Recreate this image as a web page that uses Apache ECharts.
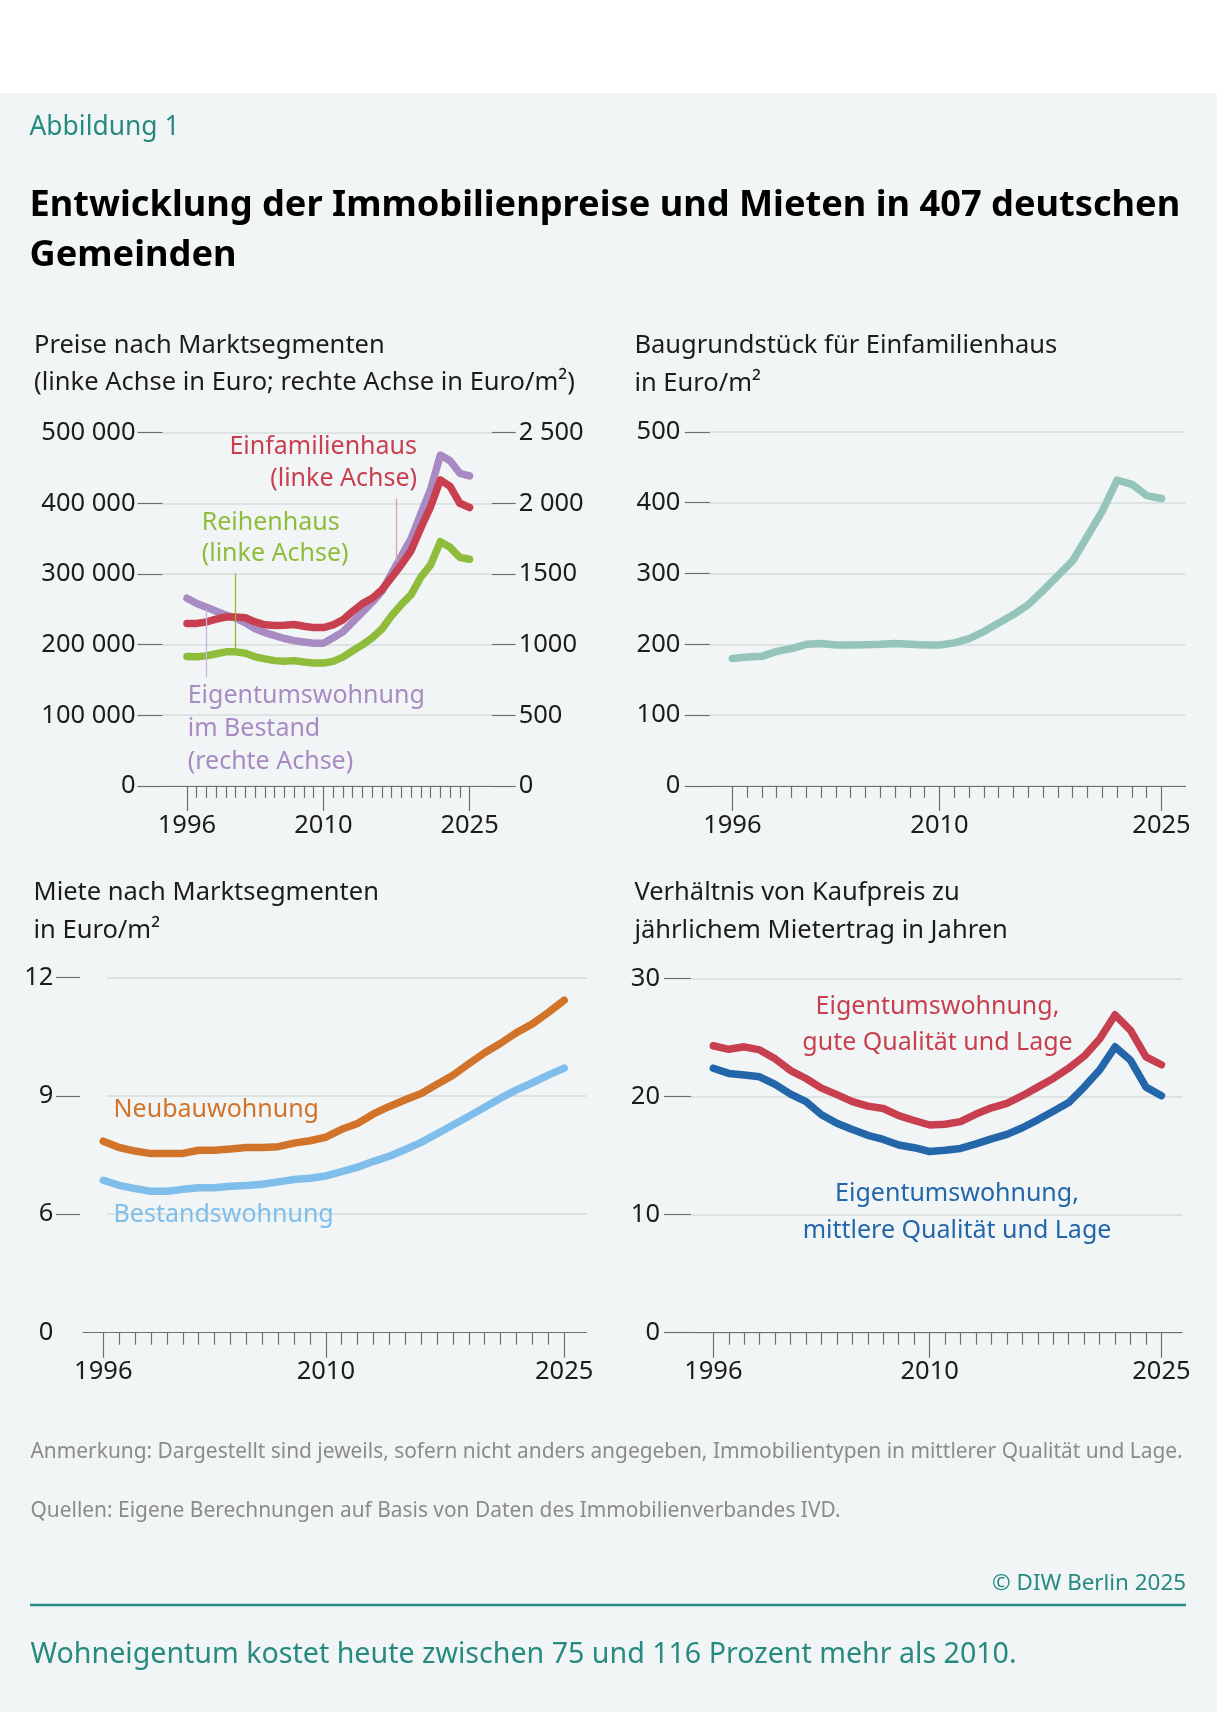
<!DOCTYPE html>
<html><head><meta charset="utf-8">
<script src="https://cdn.jsdelivr.net/npm/echarts@6/dist/echarts.min.js"></script>
<style>html,body{margin:0;padding:0;background:#f2f5f5}#c{width:1217px;height:1712px}</style>
</head><body><div id="c"></div>
<script>
// ---------- data ----------
const years = [1996,1997,1998,1999,2000,2001,2002,2003,2004,2005,2006,2007,2008,2009,2010,2011,2012,2013,2014,2015,2016,2017,2018,2019,2020,2021,2022,2023,2024,2025];
const majorYears = [1996, 2010, 2025];
const minorYears = [1997,1998,1999,2000,2001,2002,2003,2004,2005,2006,2007,2008,2009,2011,2012,2013,2014,2015,2016,2017,2018,2019,2020,2021,2022,2023,2024];

// Chart 1: Preise nach Marktsegmenten
const einfamilienhaus = [229900,230000,232000,236000,239000,239000,238000,232000,228000,227000,227500,228500,226000,224000,224000,228000,235000,247000,258000,265600,277500,295000,313000,333000,365000,395000,433000,424000,400000,394000];
const reihenhaus = [183000,182700,184000,187000,189700,189700,187700,182700,179700,177300,176300,177300,175300,173800,173800,176300,182200,191200,199600,209500,222000,240800,256700,270600,295400,312800,345600,337600,323500,320700];
const eigentumswohnungBestand = [1328,1291,1264,1236,1209,1187,1154,1112,1085,1063,1043,1028,1018,1010,1010,1048,1090,1159,1229,1298,1378,1502,1626,1750,1924,2098,2341,2301,2212,2193];
const leftTicks1 = ['0','100 000','200 000','300 000','400 000','500 000'];
const rightTicks1 = ['0','500','1000','1500','2 000','2 500'];

// Chart 2: Baugrundstück
const baugrundstueck = [180,182,183,190,194,200,201,199,199,199.5,200,201,200,199,199,202,208,218,230,242,256,276,297,318,353,388,432,426,410,406];

// Chart 3: Miete
const neubauwohnung = [7.85,7.69,7.60,7.535,7.535,7.54,7.62,7.62,7.65,7.69,7.69,7.71,7.80,7.86,7.95,8.15,8.30,8.54,8.73,8.90,9.06,9.29,9.52,9.81,10.09,10.33,10.60,10.82,11.11,11.42];
const bestandswohnung = [6.86,6.73,6.65,6.58,6.58,6.63,6.67,6.67,6.71,6.73,6.76,6.82,6.88,6.91,6.97,7.08,7.19,7.34,7.47,7.64,7.82,8.04,8.26,8.48,8.71,8.94,9.15,9.33,9.52,9.70];
const mieteTicks = [6, 9, 12];

// Chart 4: Verhältnis Kaufpreis / Mietertrag
const etwGut = [24.29,23.99,24.20,23.94,23.18,22.19,21.52,20.70,20.15,19.56,19.18,18.98,18.37,17.96,17.58,17.64,17.87,18.51,19.04,19.42,20.06,20.79,21.52,22.39,23.41,24.87,26.91,25.60,23.35,22.68];
const etwMittel = [22.39,21.95,21.81,21.66,21.02,20.20,19.56,18.45,17.73,17.20,16.71,16.36,15.89,15.66,15.34,15.45,15.60,15.98,16.41,16.79,17.35,18.02,18.75,19.48,20.79,22.24,24.20,23.06,20.79,20.06];

// ---------- styles ----------
const FONT = "'Noto Sans', 'Open Sans', sans-serif";
const TEAL = '#278a80';
const GRID = '#d6dbdc';
const TICK = '#6e6e6e';
const TXT = '#1c1c1c';
const NUM = 25.5;
const SUB = 25.5;
const C = {red:'#c83f50', green:'#8fbc3b', purple:'#a78bc2', mint:'#94c5b8', orange:'#d17429', lblue:'#7fbdeb', dblue:'#2366aa'};

const pts = arr => years.map((y, i) => [y, arr[i]]);

function xPair(gi, min, max, labelMargin) {
  return [
    {gridIndex: gi, type: 'value', min: min, max: max, position: 'bottom',
     axisLine: {show: true, onZero: false, lineStyle: {color: TICK, width: 1.2}},
     axisTick: {show: true, customValues: minorYears, length: 12, lineStyle: {color: TICK, width: 1.2}},
     axisLabel: {show: false}, splitLine: {show: false}},
    {gridIndex: gi, type: 'value', min: min, max: max, position: 'bottom',
     axisLine: {show: false},
     axisTick: {show: true, customValues: majorYears, length: 25, lineStyle: {color: TICK, width: 1.2}},
     axisLabel: {show: true, customValues: majorYears, margin: labelMargin, fontFamily: FONT, fontSize: NUM, color: TXT, formatter: v => String(v)},
     splitLine: {show: false}}
  ];
}

function lineSeries(name, data, xi, yi, color, extra) {
  return Object.assign({
    name: name, type: 'line', xAxisIndex: xi, yAxisIndex: yi, data: pts(data),
    symbol: 'none', smooth: false, z: 3,
    lineStyle: {color: color, width: 7.5, cap: 'round', join: 'round'}
  }, extra || {});
}

function callout(color, x, y1, y2) {
  return {silent: true, symbol: ['none', 'none'], label: {show: false}, animation: false,
    lineStyle: {color: color, width: 1.3, type: 'solid', opacity: 1},
    emphasis: {disabled: true},
    data: [[{coord: [x, y1]}, {coord: [x, y2]}]]};
}

const yLabel = {fontFamily: FONT, fontSize: NUM, color: TXT};

function txt(x, y, text, opts) {
  opts = opts || {};
  return {type: 'text', x: x, y: y, z: 100, scaleX: opts.scaleX || 1, silent: true,
    style: {text: text, fill: opts.color || TXT, font: (opts.weight || 'normal') + ' ' + (opts.size || SUB) + 'px ' + (opts.family || FONT),
      textAlign: opts.align || 'left', textVerticalAlign: 'middle'}};
}

const option = {
  backgroundColor: '#f2f5f5',
  animation: false,
  grid: [
    {left: 162.5, top: 432.6, width: 329.2, height: 353.3},
    {left: 709.8, top: 431.9, width: 475.7, height: 354},
    {left: 83.3, top: 977.3, width: 503.1, height: 355.4},
    {left: 691, top: 978.3, width: 491, height: 354.4}
  ],
  xAxis: [].concat(
    xPair(0, 1993.49, 2027.27, 26.5),
    xPair(1, 1994.48, 2026.62, 26.5),
    xPair(2, 1994.742, 2026.397, 26.5),
    xPair(3, 1994.557, 2026.33, 26.5)
  ),
  yAxis: [
    {gridIndex: 0, type: 'value', min: 0, max: 500000, interval: 100000, position: 'left',
     axisLine: {show: false}, axisTick: {show: true, length: 25, lineStyle: {color: TICK, width: 1.2}},
     axisLabel: Object.assign({margin: 27, formatter: v => leftTicks1[Math.round(v / 100000)]}, yLabel),
     splitLine: {show: true, lineStyle: {color: GRID, width: 1.5}}},
    {gridIndex: 0, type: 'value', min: 0, max: 2500, interval: 500, position: 'right',
     axisLine: {show: false}, axisTick: {show: true, length: 24, lineStyle: {color: TICK, width: 1.2}},
     axisLabel: Object.assign({margin: 27, formatter: v => rightTicks1[Math.round(v / 500)]}, yLabel),
     splitLine: {show: false}},
    {gridIndex: 1, type: 'value', min: 0, max: 500, interval: 100, position: 'left',
     axisLine: {show: false}, axisTick: {show: true, length: 25, lineStyle: {color: TICK, width: 1.2}},
     axisLabel: Object.assign({margin: 29.5}, yLabel),
     splitLine: {show: true, lineStyle: {color: GRID, width: 1.5}}},
    {gridIndex: 2, type: 'value', min: 3, max: 12, interval: 3, position: 'left', offset: 3.3,
     axisLine: {show: false}, axisTick: {show: true, customValues: mieteTicks, length: 24, lineStyle: {color: TICK, width: 1.2}},
     axisLabel: Object.assign({margin: 26.7, formatter: v => (v === 3 ? '0' : String(v))}, yLabel),
     splitLine: {show: false}},
    {gridIndex: 3, type: 'value', min: 0, max: 30, interval: 10, position: 'left',
     axisLine: {show: false}, axisTick: {show: true, length: 27, lineStyle: {color: TICK, width: 1.2}},
     axisLabel: Object.assign({margin: 31}, yLabel),
     splitLine: {show: true, lineStyle: {color: GRID, width: 1.5}}}
  ],
  series: [
    lineSeries('Eigentumswohnung im Bestand', eigentumswohnungBestand, 0, 1, C.purple,
      {markLine: callout('#c9b5da', 1998, 1250, 770)}),
    lineSeries('Einfamilienhaus', einfamilienhaus, 0, 0, C.red,
      {markLine: callout('#e2a1aa', 2017.5, 407000, 318000)}),
    lineSeries('Reihenhaus', reihenhaus, 0, 0, C.green,
      {markLine: callout(C.green, 2001, 300500, 192000)}),
    lineSeries('Baugrundstück', baugrundstueck, 2, 2, C.mint),
    // grid lines for chart 3 (start right of the axis)
    {name: 'grid3', type: 'line', xAxisIndex: 4, yAxisIndex: 3, data: pts(neubauwohnung), symbol: 'none', z: 1,
     lineStyle: {opacity: 0}, silent: true,
     markLine: {silent: true, symbol: ['none', 'none'], label: {show: false}, z: 1,
       lineStyle: {color: GRID, width: 1.5, type: 'solid'},
       data: mieteTicks.map(v => [{coord: [1996.21, v]}, {coord: [2026.397, v]}])}},
    lineSeries('Neubauwohnung', neubauwohnung, 4, 3, C.orange),
    lineSeries('Bestandswohnung', bestandswohnung, 4, 3, C.lblue),
    lineSeries('Eigentumswohnung, gute Qualität und Lage', etwGut, 6, 4, C.red),
    lineSeries('Eigentumswohnung, mittlere Qualität und Lage', etwMittel, 6, 4, C.dblue)
  ],
  graphic: [
    {type: 'rect', x: 0, y: 0, z: 0, silent: true, shape: {width: 1217, height: 93}, style: {fill: '#ffffff'}},
    txt(29.5, 127.5, 'Abbildung 1', {color: TEAL, size: 26.4}),
    txt(29.5, 206, 'Entwicklung der Immobilienpreise und Mieten in 407 deutschen', {weight: 'bold', size: 36.2, color: '#000'}),
    txt(29.5, 255.5, 'Gemeinden', {weight: 'bold', size: 36.2, color: '#000'}),

    txt(34, 346, 'Preise nach Marktsegmenten'),
    txt(34, 383, '(linke Achse in Euro; rechte Achse in Euro/m²)'),
    txt(634.4, 346, 'Baugrundstück für Einfamilienhaus'),
    txt(634.4, 384, 'in Euro/m²'),
    txt(33.5, 892.7, 'Miete nach Marktsegmenten'),
    txt(33.5, 930.6, 'in Euro/m²'),
    txt(634.4, 892.7, 'Verhältnis von Kaufpreis zu'),
    txt(634.4, 930.6, 'jährlichem Mietertrag in Jahren'),

    txt(417, 447, 'Einfamilienhaus', {color: C.red, size: 25, align: 'right'}),
    txt(417, 479, '(linke Achse)', {color: C.red, size: 25, align: 'right'}),
    txt(201.7, 523, 'Reihenhaus', {color: C.green, size: 25}),
    txt(201.7, 554, '(linke Achse)', {color: C.green, size: 25}),
    txt(187.7, 696, 'Eigentumswohnung', {color: C.purple, size: 25}),
    txt(187.7, 729, 'im Bestand', {color: C.purple, size: 25}),
    txt(187.7, 761.5, '(rechte Achse)', {color: C.purple, size: 25}),

    txt(113.6, 1110, 'Neubauwohnung', {color: C.orange, size: 25}),
    txt(113.6, 1215, 'Bestandswohnung', {color: C.lblue, size: 25}),

    txt(937.5, 1006.5, 'Eigentumswohnung,', {color: C.red, size: 25, align: 'center'}),
    txt(937.5, 1042.5, 'gute Qualität und Lage', {color: C.red, size: 25, align: 'center'}),
    txt(957, 1194, 'Eigentumswohnung,', {color: C.dblue, size: 25, align: 'center'}),
    txt(957, 1230.5, 'mittlere Qualität und Lage', {color: C.dblue, size: 25, align: 'center'}),

    txt(30.5, 1451.5, 'Anmerkung: Dargestellt sind jeweils, sofern nicht anders angegeben, Immobilientypen in mittlerer Qualität und Lage.', {color: '#8b8b8b', size: 22, scaleX: 0.95}),
    txt(30.5, 1511, 'Quellen: Eigene Berechnungen auf Basis von Daten des Immobilienverbandes IVD.', {color: '#8b8b8b', size: 22, scaleX: 0.95}),
    txt(1186, 1583.5, '© DIW Berlin 2025', {color: TEAL, size: 22.4, align: 'right'}),
    {type: 'line', z: 100, silent: true, shape: {x1: 30, y1: 1605, x2: 1186, y2: 1605}, style: {stroke: TEAL, lineWidth: 2.5}},
    txt(30.5, 1655, 'Wohneigentum kostet heute zwischen 75 und 116 Prozent mehr als 2010.', {color: TEAL, size: 28.6})
  ]
};

const chart = echarts.init(document.getElementById('c'), null, {renderer: 'canvas'});
chart.setOption(option);
</script>
</body></html>
